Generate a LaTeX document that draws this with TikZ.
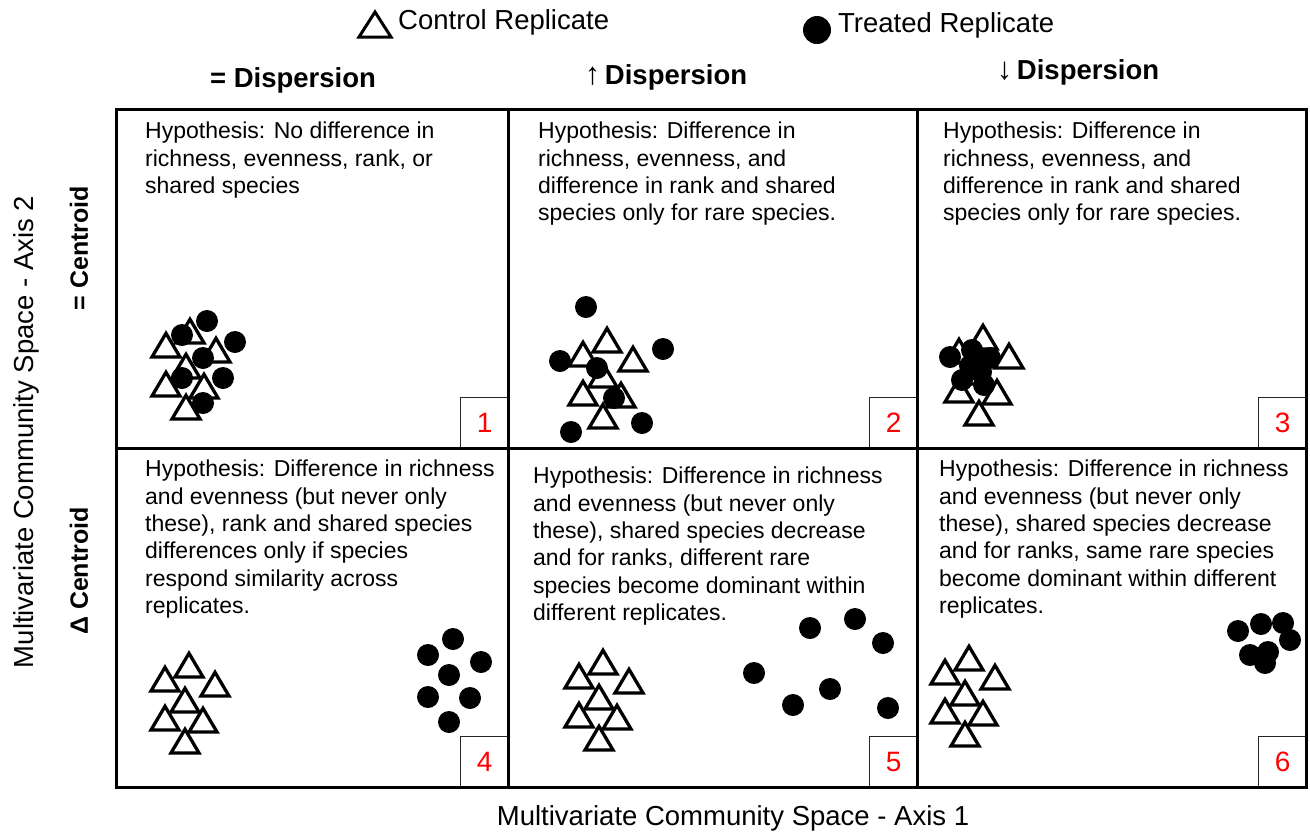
\documentclass[tikz,border=0pt]{standalone}
\usepackage{fontspec}
\setmainfont{Liberation Sans}
\newcommand\ctrlcluster[2]{%
  \begin{scope}[shift={(#1,#2)}]
    \foreach \dx/\dy in {0/0,-24/14,26/19,-4/35,-24/53,14/55,-4/76}
      \draw[ctrl] (\dx,\dy+3.3) -- ++(14,23.7) -- ++(-28,0) -- cycle;
  \end{scope}}
\newcommand\trtdots[1]{%
  \foreach \px/\py in {#1} \fill[black] (\px,\py) circle (11pt);}
\begin{document}
\begin{tikzpicture}[x=1pt,y=-1pt,
  grid/.style={line width=3pt, line cap=rect},
  hyp/.style={anchor=north west, inner sep=0pt, align=left, font=\fontsize{23}{27.3}\selectfont},
  head/.style={inner sep=0pt, font=\fontsize{27.5}{30}\selectfont\bfseries},
  side/.style={inner sep=0pt, rotate=90, font=\fontsize{25}{28}\selectfont\bfseries},
  axis/.style={inner sep=0pt, font=\fontsize{27.5}{30}\selectfont},
  numbox/.style={draw=black!85, line width=1.2pt, minimum width=48pt, minimum height=51pt, inner sep=0pt, anchor=north west, text=red, font=\fontsize{28}{30}\selectfont},
  ctrl/.style={draw=black, line width=3.3pt, fill=white}]
\useasboundingbox (0,0) rectangle (1310,836);
\fill[white] (0,0) rectangle (1310,836);

% legend
\draw[ctrl, line width=3pt] (375,12) -- (391,37) -- (359,37) -- cycle;
\node[axis, anchor=west] (lctrl) at (398,22) {Control Replicate};
\fill[black] (817,30) circle (14pt);
\node[axis, anchor=west] (ltrt) at (838,25) {Treated Replicate};

% headers
\node[head] (h1) at (293,80) {= Dispersion};
\node[head] (h2) at (666,77) {{\mdseries\fontsize{31}{30}\selectfont ↑}\,Dispersion};
\node[head] (h3) at (1078,72) {{\mdseries\fontsize{31}{30}\selectfont ↓}\,Dispersion};

% side labels
\node[axis, rotate=90] (ax2) at (26,432) {Multivariate Community Space - Axis 2};
\node[side] (c1) at (79,248) {= Centroid};
\node[side] (c2) at (79,571) {Δ Centroid};
\node[axis] (ax1) at (733,818) {Multivariate Community Space - Axis 1};

% hypotheses
\node[hyp] (t1) at (145,122) {Hypothesis: No difference in\\richness, evenness, rank, or\\shared species};
\node[hyp] (t2) at (538,122) {Hypothesis: Difference in\\richness, evenness, and\\difference in rank and shared\\species only for rare species.};
\node[hyp] (t3) at (943,122) {Hypothesis: Difference in\\richness, evenness, and\\difference in rank and shared\\species only for rare species.};
\node[hyp] (t4) at (145,460) {Hypothesis: Difference in richness\\and evenness (but never only\\these), rank and shared species\\differences only if species\\respond similarity across\\replicates.};
\node[hyp] (t5) at (533,467) {Hypothesis: Difference in richness\\and evenness (but never only\\these), shared species decrease\\and for ranks, different rare\\species become dominant within\\different replicates.};
\node[hyp] (t6) at (939,460) {Hypothesis: Difference in richness\\and evenness (but never only\\these), shared species decrease\\and for ranks, same rare species\\become dominant within different\\replicates.};

% clusters
\ctrlcluster{190}{316}
\trtdots{207/321,182/335,235/342,203/358,182/378,223/378,203/403}
\ctrlcluster{607}{325}
\trtdots{586/307,560/361,663/349,597/368,614/398,571/432,642/423}
\ctrlcluster{983}{322}
\trtdots{950/357,972/350,990/358,970/366,981/372,962/380,984/385}
\ctrlcluster{189}{650}
\trtdots{453/639,428/655,481/662,449/675,428/697,470/698,449/722}
\ctrlcluster{603}{647}
\trtdots{810/628,855/619,883/643,754/673,830/689,793/705,888/708}
\ctrlcluster{969}{643}
\trtdots{1238/631,1261/624,1283/623,1290/640,1250/655,1268/652,1265/663}

% number boxes
\node[numbox] (n1) at (460,397) {1};
\node[numbox] (n2) at (869,397) {2};
\node[numbox] (n3) at (1258,397) {3};
\node[numbox] (n4) at (460,736) {4};
\node[numbox] (n5) at (869,736) {5};
\node[numbox] (n6) at (1258,736) {6};

% grid
\draw[grid] (116,109) rectangle (1306,787);
\draw[grid] (116,448) -- (1306,448);
\draw[grid] (508,109) -- (508,787);
\draw[grid] (917,109) -- (917,787);
\end{tikzpicture}
\end{document}
